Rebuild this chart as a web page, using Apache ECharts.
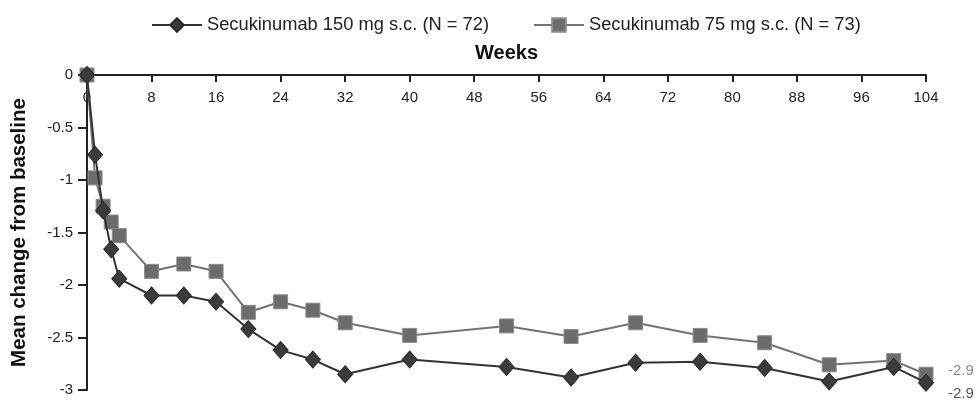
<!DOCTYPE html>
<html>
<head>
<meta charset="utf-8">
<script src="https://cdn.jsdelivr.net/npm/echarts@6/dist/echarts.min.js"></script>
<style>
html,body{margin:0;padding:0;background:#fff;}
#chart{width:975px;height:401px;}
</style>
</head>
<body>
<div id="chart"></div>
<script>
var weeks = [0, 1, 2, 3, 4, 8, 12, 16, 20, 24, 28, 32, 40, 52, 60, 68, 76, 84, 92, 100, 104];
var secu150 = [0, -0.76, -1.29, -1.66, -1.94, -2.10, -2.10, -2.16, -2.42, -2.62, -2.71, -2.85, -2.71, -2.78, -2.88, -2.74, -2.73, -2.79, -2.92, -2.78, -2.93];
var secu75 = [0, -0.98, -1.25, -1.40, -1.53, -1.87, -1.80, -1.87, -2.26, -2.16, -2.24, -2.36, -2.48, -2.39, -2.49, -2.36, -2.48, -2.55, -2.76, -2.72, -2.85];
var seriesNames = ['Secukinumab 150 mg s.c. (N = 72)', 'Secukinumab 75 mg s.c. (N = 73)'];
var endLabels = ['-2.9', '-2.9'];
var xTickInterval = 8;
var yTickInterval = 0.5;

function pairs(xs, ys) { return xs.map(function (x, i) { return [x, ys[i]]; }); }

var chart = echarts.init(document.getElementById('chart'), null, { renderer: 'canvas' });
var font = 'Liberation Sans, Arial, Helvetica, sans-serif';
chart.setOption({
  animation: false,
  textStyle: { fontFamily: font },
  legend: {
    left: 146, top: 11,
    itemWidth: 50, itemHeight: 17, itemGap: 44,
    textStyle: { fontSize: 18.3, color: '#222', fontFamily: font },
    data: [seriesNames[0], seriesNames[1]]
  },
  grid: { left: 87, right: 49, top: 75, bottom: 11, containLabel: false },
  xAxis: {
    type: 'value', position: 'top', min: 0, max: 104, interval: xTickInterval,
    name: 'Weeks', nameLocation: 'middle', nameGap: 12,
    nameTextStyle: { fontSize: 20, fontWeight: 'bold', color: '#111', fontFamily: font },
    axisLine: { show: true, onZero: false, lineStyle: { color: '#222', width: 2 } },
    axisTick: { show: true, inside: true, length: 7, lineStyle: { color: '#222', width: 2 } },
    axisLabel: { inside: true, margin: 15, fontSize: 15, color: '#222', fontFamily: font, verticalAlign: 'top' },
    splitLine: { show: false }
  },
  yAxis: {
    type: 'value', min: -3, max: 0, interval: yTickInterval,
    name: 'Mean change from baseline', nameLocation: 'middle', nameGap: 57,
    nameTextStyle: { fontSize: 20.5, fontWeight: 'bold', color: '#111', fontFamily: font },
    axisLine: { show: true, lineStyle: { color: '#222', width: 2 } },
    axisTick: { show: true, inside: false, length: 9, lineStyle: { color: '#222', width: 2 } },
    axisLabel: { margin: 14, fontSize: 15, color: '#222', fontFamily: font },
    splitLine: { show: false }
  },
  series: [
    {
      name: seriesNames[1], type: 'line', z: 2,
      data: pairs(weeks, secu75),
      symbol: 'rect', symbolSize: 14, showAllSymbol: true,
      lineStyle: { color: '#737373', width: 2 },
      itemStyle: { color: '#6c6c6c', borderColor: '#8a8a8a', borderWidth: 1 },
      endLabel: { show: true, formatter: function () { return endLabels[1]; }, distance: 5, offset: [17, -3], fontSize: 15, color: '#8a8a8a', fontFamily: font }
    },
    {
      name: seriesNames[0], type: 'line', z: 3,
      data: pairs(weeks, secu150),
      symbol: 'diamond', symbolSize: [15, 17], showAllSymbol: true,
      lineStyle: { color: '#333', width: 2 },
      itemStyle: { color: '#3b3b3b', borderColor: '#2a2a2a', borderWidth: 1 },
      endLabel: { show: true, formatter: function () { return endLabels[0]; }, distance: 5, offset: [17, 11], fontSize: 15, color: '#555', fontFamily: font }
    }
  ]
});
</script>
</body>
</html>
